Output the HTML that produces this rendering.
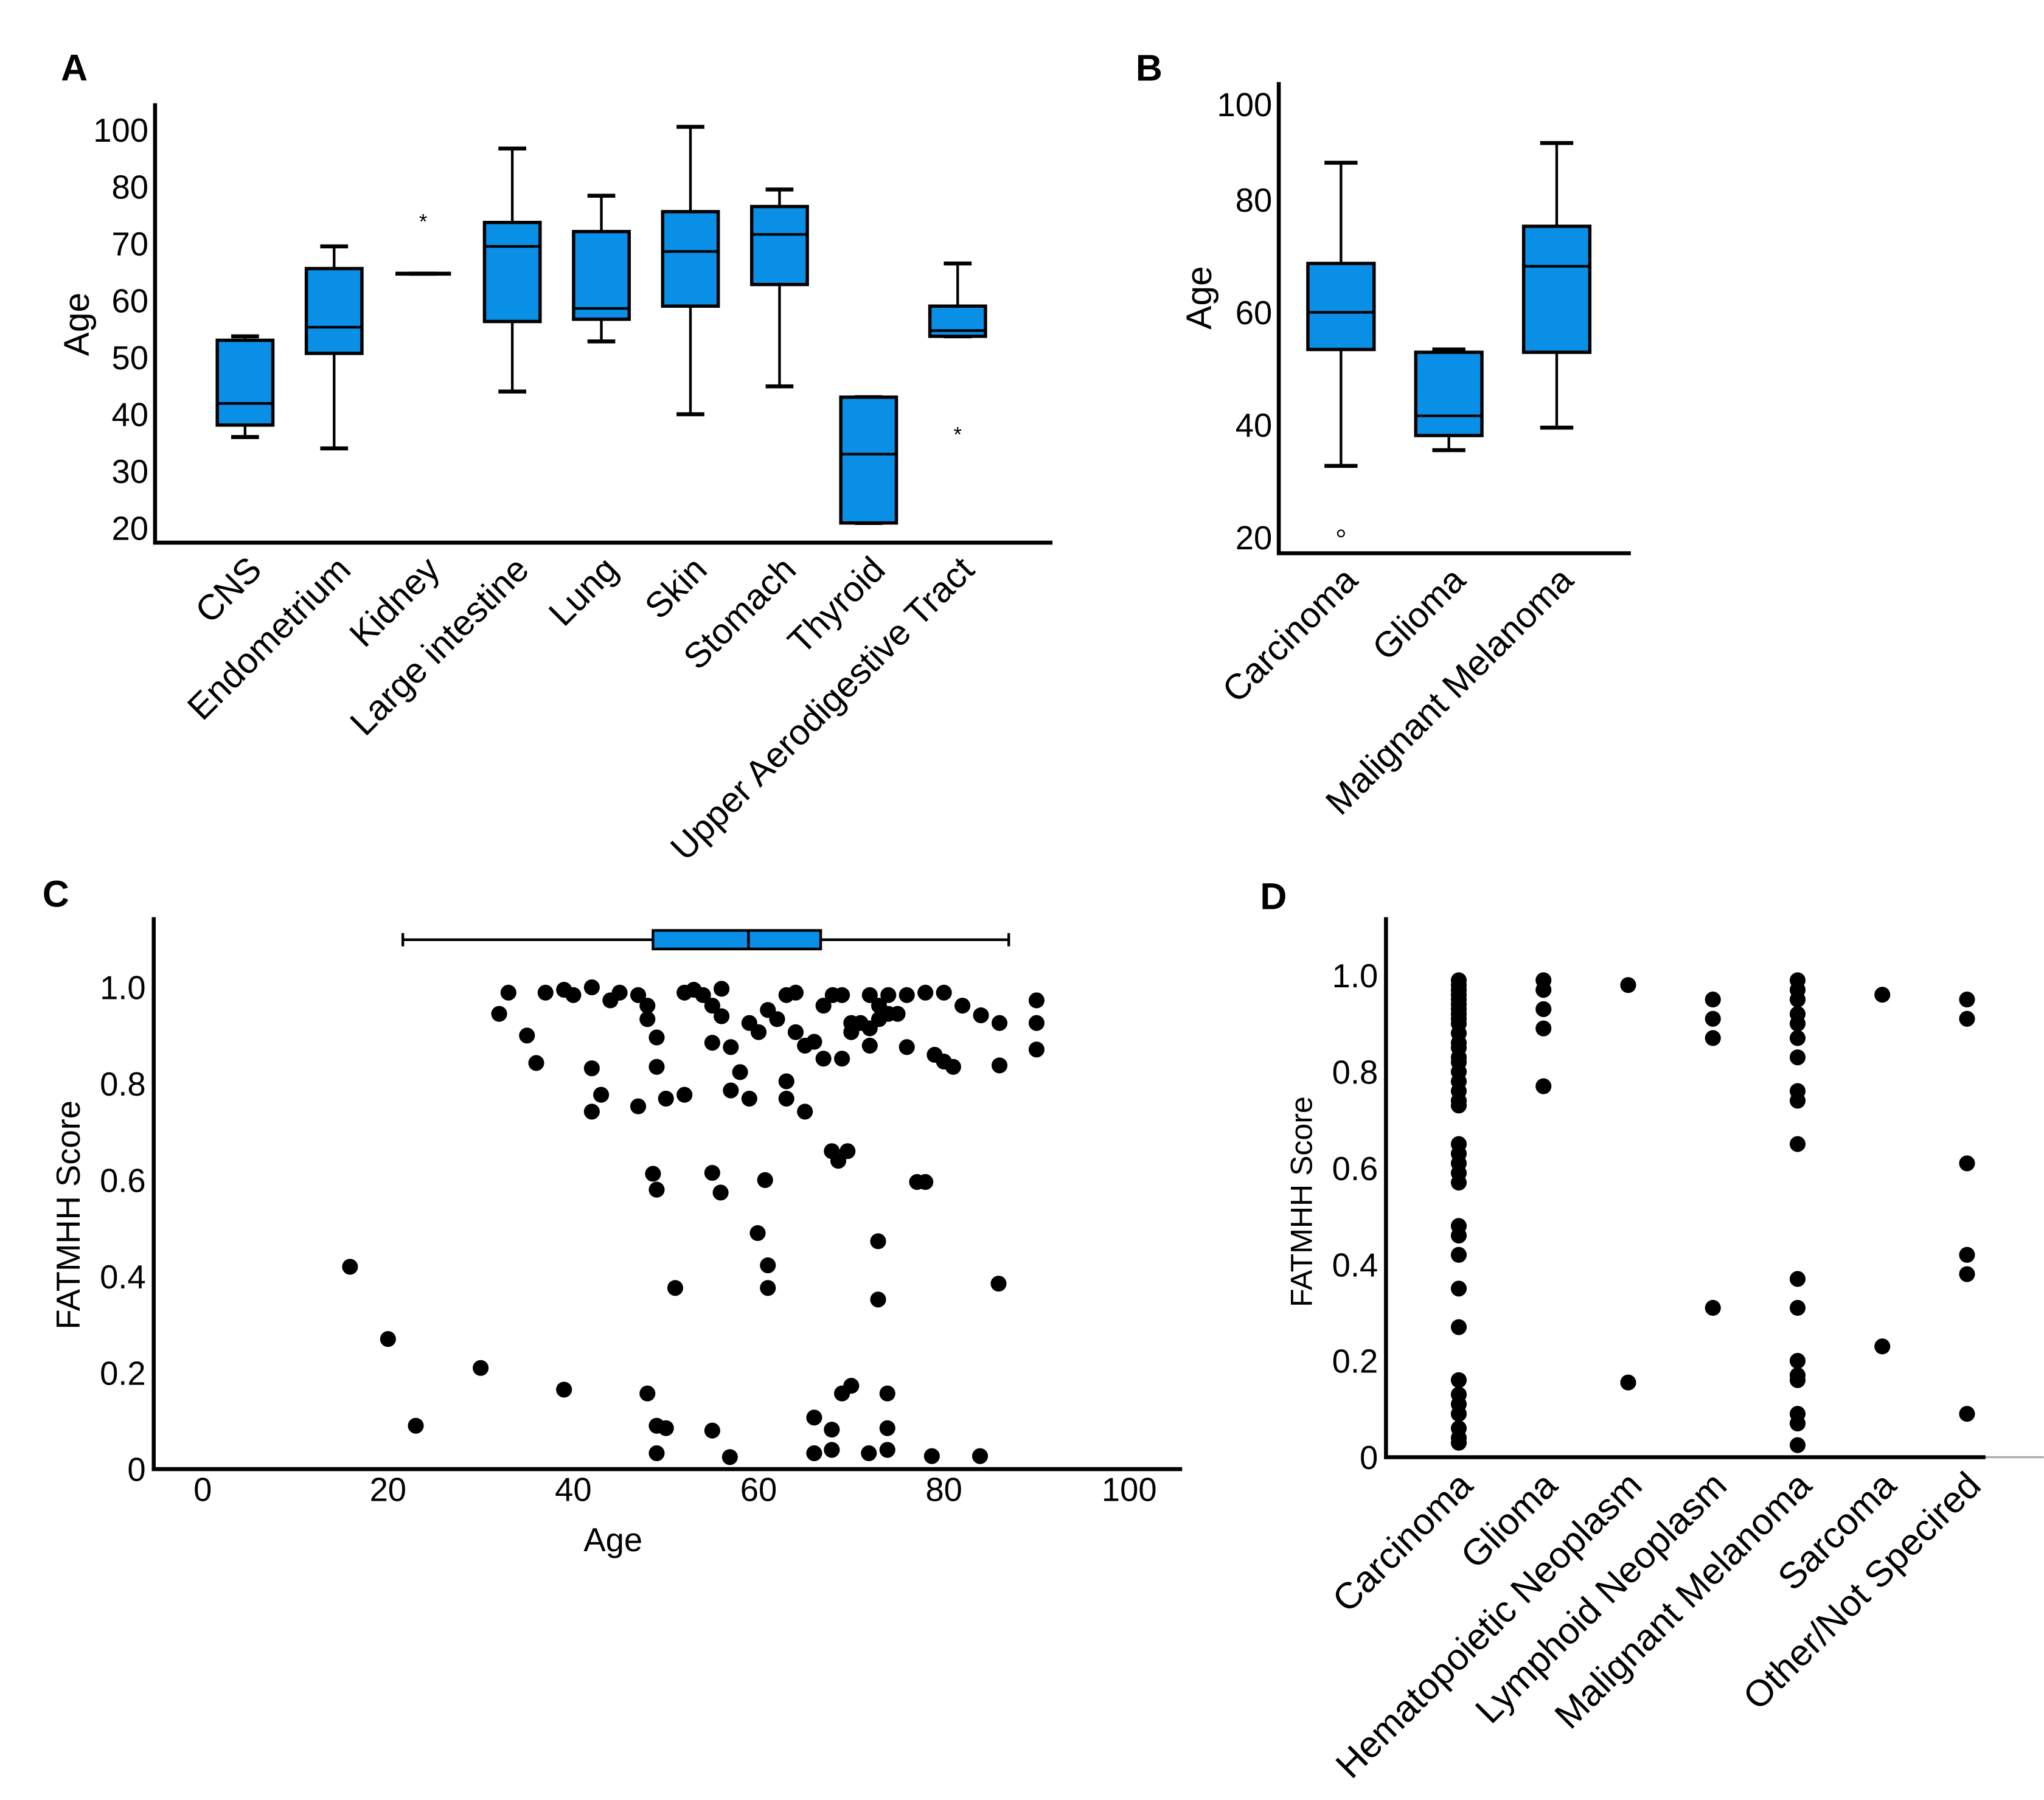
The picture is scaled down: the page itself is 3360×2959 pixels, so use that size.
<!DOCTYPE html>
<html><head><meta charset="utf-8">
<style>
html,body{margin:0;padding:0;background:#fff;}
svg{display:block;font-family:"Liberation Sans",Arial,sans-serif;}
</style></head>
<body>
<svg id="fig" width="3360" height="2959" viewBox="0 0 1544 1360" xmlns="http://www.w3.org/2000/svg">
<rect width="1544" height="1360" fill="#fff"/>
<g id="root"></g>
</svg>
<script>
// ---- Panel A data ----
const aCats = ["CNS","Endometrium","Kidney","Large intestine","Lung","Skin","Stomach","Thyroid","Upper Aerodigestive Tract"];
const aLo  = [36, 34, 64.7, 44, 52.8, 40, 44.9, 20.9, 53.7];
const aQ1  = [38.1, 50.7, 64.7, 56.3, 56.7, 59, 62.8, 20.9, 53.7];
const aMed = [41.9, 55.3, 64.7, 69.5, 58.6, 68.6, 71.6, 33, 54.7];
const aQ3  = [53, 65.6, 64.7, 73.7, 72.1, 75.6, 76.5, 43, 59];
const aHi  = [53.7, 69.5, 64.7, 86.7, 78.4, 90.5, 79.5, 43, 66.5];
const aOutCat = [2, 8];
const aOutVal = [74.4, 37];
const aTickVals = [20,30,40,50,60,70,80,90];
const aTickLabels = ["20","30","40","50","60","70","80","100"];
// ---- Panel B data ----
const bCats = ["Carcinoma","Glioma","Malignant Melanoma"];
const bLo  = [32.7, 35.5, 39.5];
const bQ1  = [53.4, 38.1, 52.9];
const bMed = [60, 41.6, 68.2];
const bQ3  = [68.7, 52.9, 75.3];
const bHi  = [86.6, 53.4, 90.1];
const bOutCat = [0];
const bOutVal = [20.7];
const bTickVals = [20,40,60,80,97];
const bTickLabels = ["20","40","60","80","100"];
// ---- Panel C data ----
const cAges = [15.9,20,23,30,39,48,49,50,49,55,56.9,51,48.6,49,55,55.9,59.9,61,61,60.7,66,66,67.9,67.9,69,70,71.9,73.9,73.9,73.9,72.9,72.9,67.9,68.6,69.6,77.1,78,85.9,78.7,83.9,
32,33,35,36,37,39,40,42,44,45,47,48,48,49,49,42,43,42,47,50,52,52,53,54,55,56,56,57,55,57,58,59,59,60,61,62,63,64,64,63,63,65,65,66,67,68,69,70,71,72,73,74,74,72,69,70,67,75,76,78,80,82,84,86,90,90,90,86,79,81,80,76,73,72];
const cScores = [0.42,0.27,0.09,0.21,0.165,0.157,0.09,0.085,0.033,0.08,0.025,0.376,0.613,0.58,0.615,0.574,0.49,0.423,0.376,0.6,0.033,0.107,0.082,0.04,0.157,0.173,0.033,0.085,0.157,0.04,0.352,0.473,0.66,0.64,0.66,0.596,0.596,0.385,0.027,0.027,
0.945,0.989,0.9,0.843,0.989,0.995,0.984,1.0,0.973,0.989,0.984,0.962,0.934,0.896,0.835,0.832,0.777,0.742,0.753,0.769,0.777,0.989,0.995,0.984,0.962,0.997,0.94,0.876,0.885,0.786,0.824,0.769,0.926,0.907,0.953,0.934,0.984,0.989,0.907,0.805,0.769,0.742,0.879,0.887,0.962,0.984,0.984,0.926,0.926,0.984,0.962,0.984,0.945,0.879,0.852,0.907,0.852,0.945,0.984,0.989,0.989,0.962,0.942,0.926,0.973,0.926,0.871,0.838,0.86,0.835,0.846,0.876,0.934,0.915];
const cBoxStats = [21.6, 48.6, 58.9, 66.7, 87]; // min, q1, median, q3, max
const cXTicks = [0,20,40,60,80,100];
const cYTicks = [0,0.2,0.4,0.6,0.8,1.0];
const cYLabels = ["0","0.2","0.4","0.6","0.8","1.0"];
// ---- Panel D data ----
const dCats = ["Carcinoma","Glioma","Hematopoietic Neoplasm","Lymphoid Neoplasm","Malignant Melanoma","Sarcoma","Other/Not Specired"];
const dCarcinoma = [0.99,0.98,0.97,0.96,0.95,0.94,0.93,0.92,0.91,0.9,0.88,0.86,0.85,0.83,0.82,0.8,0.78,0.76,0.74,0.73,0.65,0.63,0.61,0.59,0.57,0.48,0.46,0.42,0.35,0.27,0.16,0.13,0.11,0.09,0.06,0.04,0.03];
const dGlioma = [0.99,0.97,0.93,0.89,0.77];
const dHemato = [0.98,0.155];
const dLymphoid = [0.95,0.91,0.87,0.31];
const dMelanoma = [0.99,0.97,0.95,0.92,0.9,0.87,0.83,0.76,0.74,0.65,0.37,0.31,0.2,0.17,0.16,0.09,0.07,0.025];
const dSarcoma = [0.96,0.23];
const dOther = [0.95,0.91,0.61,0.42,0.38,0.09];
const dYTicks = [0,0.2,0.4,0.6,0.8,1.0];
const dYLabels = ["0","0.2","0.4","0.6","0.8","1.0"];

const NS="http://www.w3.org/2000/svg";
const root=document.getElementById('root');
function mk(tag,attrs,parent,txt){const e=document.createElementNS(NS,tag);for(const k in attrs)e.setAttribute(k,attrs[k]);if(txt!==undefined)e.textContent=txt;(parent||root).appendChild(e);return e;}
function grp(name){const g=mk('g',{});return g;}
const BLUE="#0a8fe6";

function label(g,x,y,t,size,anchor,rot,weight){
  const at={x:x,y:y,'font-size':size,'text-anchor':anchor||'middle',fill:'#000'};
  if(rot!==undefined)at.transform=`rotate(${rot} ${x} ${y})`;
  if(weight)at['font-weight']=weight;
  return mk('text',at,g,t);
}

function boxPanel(name,cats,lo,q1,med,q3,hi,outC,outV,outSym,ticks,tickLabels,ax){
  const g=grp(name);
  const y=v=>ax.y0-(v-ax.v0)*ax.k;
  const x=i=>ax.cx0+i*ax.dx;
  const axes=mk('path',{d:`M${ax.xl} ${ax.yt} L${ax.xl} ${ax.yb} L${ax.xr} ${ax.yb}`,stroke:'#000','stroke-width':3,fill:'none'},g);
  
  ticks.forEach((t,i)=>{const tl=label(g,ax.xl-5,y(t)+9,tickLabels[i],25,'end');
    });
  cats.forEach((c,i)=>{
    const cx=x(i),w=ax.bw;
    const b=mk('g',{},g);
    
    
    mk('line',{x1:cx,x2:cx,y1:y(hi[i]),y2:y(q3[i]),stroke:'#000','stroke-width':2},b);
    mk('line',{x1:cx,x2:cx,y1:y(lo[i]),y2:y(q1[i]),stroke:'#000','stroke-width':2},b);
    mk('line',{x1:cx-w/4,x2:cx+w/4,y1:y(hi[i]),y2:y(hi[i]),stroke:'#000','stroke-width':3},b);
    mk('line',{x1:cx-w/4,x2:cx+w/4,y1:y(lo[i]),y2:y(lo[i]),stroke:'#000','stroke-width':3},b);
    if(q3[i]>q1[i]) mk('rect',{x:cx-w/2,y:y(q3[i]),width:w,height:y(q1[i])-y(q3[i]),fill:BLUE,stroke:'#000','stroke-width':2.5},b);
    mk('line',{x1:cx-w/2,x2:cx+w/2,y1:y(med[i]),y2:y(med[i]),stroke:'#000','stroke-width':q3[i]>q1[i]?2:3},b);
    const tl=label(g,cx+14,ax.yb+22,c,27,'end',-45);
    
  });
  outC.forEach((c,i)=>{
    let o;
    if(outSym==='*') o=label(g,x(c),y(outV[i])+8,'*',16,'middle');
    else o=mk('circle',{cx:x(c),cy:y(outV[i]),r:2.5,fill:'none',stroke:'#000','stroke-width':1},g);
    
  });
  return g;
}

// Panel A
const gA=boxPanel('panel-a',aCats,aLo,aQ1,aMed,aQ3,aHi,aOutCat,aOutVal,'*',aTickVals,aTickLabels,
  {y0:399,v0:20,k:4.3,cx0:185,dx:67.3,bw:42,xl:117,xr:795,yt:78,yb:410});
let t=label(gA,56,61,'A',28,'middle',undefined,'bold');
t=label(gA,67,245,'Age',27,'middle',-90);

// Panel B
const gB=boxPanel('panel-b',bCats,bLo,bQ1,bMed,bQ3,bHi,bOutCat,bOutVal,'o',bTickVals,bTickLabels,
  {y0:406,v0:20,k:4.25,cx0:1013,dx:81.5,bw:50,xl:966,xr:1232,yt:62,yb:418});
t=label(gB,868,61,'B',28,'middle',undefined,'bold');
t=label(gB,915,225,'Age',27,'middle',-90);

// Panel C
(function(){
  const g=grp('panel-c');
  const x=v=>153+v*7, y=v=>1110-v*364;
  const ax=mk('path',{d:'M116 693 L116 1110 L893 1110',stroke:'#000','stroke-width':3,fill:'none'},g);
  
  cXTicks.forEach(v=>{const l=label(g,x(v),1134,String(v),25,'middle');});
  cYTicks.forEach((v,i)=>{const l=label(g,110,y(v)+9,cYLabels[i],25,'end');});
  const b=mk('g',{},g);
  const by=710;
  mk('line',{x1:x(cBoxStats[0]),x2:x(cBoxStats[4]),y1:by,y2:by,stroke:'#000','stroke-width':2},b);
  mk('line',{x1:x(cBoxStats[0]),x2:x(cBoxStats[0]),y1:by-5,y2:by+5,stroke:'#000','stroke-width':2},b);
  mk('line',{x1:x(cBoxStats[4]),x2:x(cBoxStats[4]),y1:by-5,y2:by+5,stroke:'#000','stroke-width':2},b);
  mk('rect',{x:x(cBoxStats[1]),y:by-7,width:x(cBoxStats[3])-x(cBoxStats[1]),height:14,fill:BLUE,stroke:'#000','stroke-width':2},b);
  mk('line',{x1:x(cBoxStats[2]),x2:x(cBoxStats[2]),y1:by-7,y2:by+7,stroke:'#000','stroke-width':2},b);
  cAges.forEach((a,i)=>{const c=mk('circle',{cx:x(a),cy:y(cScores[i]),r:6,fill:'#000'},g);
    });
  let l=label(g,42,685,'C',28,'middle',undefined,'bold');
  l=label(g,463,1172,'Age',25,'middle');
  l=label(g,60,918,'FATMHH Score',25,'middle',-90);
})();

// Panel D
(function(){
  const g=grp('panel-d');
  const y=v=>1101-v*364, x=i=>1102+i*64;
  const ax=mk('path',{d:'M1047 693 L1047 1101 L1500 1101',stroke:'#000','stroke-width':3,fill:'none'},g);
  
  const ext=mk('line',{x1:1500,x2:1544,y1:1101,y2:1101,stroke:'#aaa','stroke-width':1.5},g);
  
  dYTicks.forEach((v,i)=>{const l=label(g,1041,y(v)+9,dYLabels[i],25,'end');});
  const series=[dCarcinoma,dGlioma,dHemato,dLymphoid,dMelanoma,dSarcoma,dOther];
  series.forEach((s,i)=>{
    s.forEach(v=>{const c=mk('circle',{cx:x(i),cy:y(v),r:6,fill:'#000'},g);
      });
    const l=label(g,x(i)+12,1124,dCats[i],28,'end',-45);
    
  });
  let l=label(g,962,687,'D',28,'middle',undefined,'bold');
  l=label(g,991,908,'FATMHH Score',23,'middle',-90);
})();
</script>
</body></html>
